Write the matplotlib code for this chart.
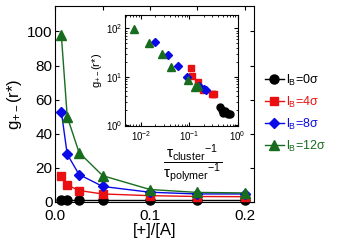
import matplotlib
matplotlib.use("Agg")
import matplotlib.pyplot as plt

plt.rcParams["font.family"] = ["Liberation Sans", "DejaVu Sans"]
plt.rcParams["mathtext.fontset"] = "custom"
plt.rcParams["mathtext.rm"] = "Liberation Sans"
plt.rcParams["mathtext.it"] = "Liberation Sans:italic"
plt.rcParams["mathtext.bf"] = "Liberation Sans:bold"

# ---- data ----
conc = [0.00625, 0.0125, 0.025, 0.05, 0.1, 0.15, 0.2]

g_lb0 = [1.0, 1.0, 1.0, 1.0, 1.0, 1.0, 1.0]
g_lb4 = [15.0, 10.0, 6.7, 4.7, 3.7, 3.2, 3.1]
g_lb8 = [53.0, 28.0, 16.1, 9.1, 5.7, 4.7, 4.7]
g_lb12 = [98.0, 50.0, 29.0, 15.4, 7.3, 5.6, 5.3]

# inset: tau ratio vs g
ratio_lb0 = [0.43, 0.47, 0.50, 0.55, 0.60, 0.63, 0.69]
gin_lb0 = [2.4, 2.05, 1.75, 1.9, 1.75, 1.7, 1.7]
ratio_lb4 = [0.107, 0.116, 0.150, 0.19, 0.29, 0.31, 0.33]
gin_lb4 = [15.2, 10.5, 7.6, 5.4, 4.4, 4.3, 4.3]
ratio_lb8 = [0.0197, 0.037, 0.060, 0.092, 0.163, 0.205, 0.22]
gin_lb8 = [53.0, 28.7, 16.4, 9.9, 6.3, 5.5, 5.4]
ratio_lb12 = [0.0074, 0.015, 0.027, 0.042, 0.096, 0.13, 0.15]
gin_lb12 = [98.0, 50.0, 29.6, 15.9, 8.4, 6.1, 6.5]

labels = [r"l$_\mathrm{B}$=0σ", r"l$_\mathrm{B}$=4σ",
          r"l$_\mathrm{B}$=8σ", r"l$_\mathrm{B}$=12σ"]
colors = ["black", "#e81010", "#0a0ae6", "#186c1e"]
markers = ["o", "s", "D", "^"]
msizes = [6.5, 5.8, 5.5, 7]

fig = plt.figure(figsize=(3.42, 2.46), dpi=100)

# ---- main axes ----
ax = fig.add_axes([0.162, 0.179, 0.581, 0.797])
for ys, c, m, ms, lab in zip([g_lb0, g_lb4, g_lb8, g_lb12], colors, markers, msizes, labels):
    ax.plot(conc, ys, color=c, marker=m, markersize=ms, linewidth=1,
            label=lab, clip_on=False, zorder=3)
ax.set_xlim(0, 0.21)
ax.set_ylim(0, 115)
ax.set_xticks([0.0, 0.05, 0.1, 0.15, 0.2])
ax.set_xticklabels(["0.0", "", "0.1", "", "0.2"])
ax.set_yticks([0, 20, 40, 60, 80, 100])
ax.tick_params(direction="in", top=True, right=True, labelsize=11, length=3, pad=2)
ax.tick_params(axis="x", pad=5)
ax.set_xlabel("[+]/[A]", fontsize=12, labelpad=0)
ax.set_ylabel(r"g$_{+-}$(r*)", fontsize=12, labelpad=2)

leg = fig.legend(loc="upper left", bbox_to_anchor=(0.76, 0.725), frameon=False,
                 fontsize=9, handlelength=1.5, handletextpad=0.2,
                 labelspacing=0.55, borderaxespad=0, labelcolor="linecolor")

# ---- inset ----
ins = fig.add_axes([0.365, 0.488, 0.33, 0.451])
for xs, ys, c, m, ms in zip([ratio_lb0, ratio_lb4, ratio_lb8, ratio_lb12],
                            [gin_lb0, gin_lb4, gin_lb8, gin_lb12], colors, markers,
                            [5, 4.5, 4.5, 5.5]):
    ins.plot(xs, ys, linestyle="none", color=c, marker=m, markersize=ms)
ins.set_xscale("log")
ins.set_yscale("log")
ins.set_xlim(0.0047, 1)
ins.set_ylim(0.95, 190)
ins.tick_params(which="both", direction="in", top=True, right=True, labelsize=7, pad=2)
ins.tick_params(which="major", length=3)
ins.tick_params(which="minor", length=1.5)
ins.set_ylabel(r"g$_{+-}$(r*)", fontsize=8, labelpad=1)

fig.text(0.563, 0.335,
         r"$\dfrac{\mathrm{τ}_{\mathrm{cluster}}{}^{-1}}{\mathrm{τ}_{\mathrm{polymer}}{}^{-1}}$",
         ha="center", va="center", fontsize=11)

fig.savefig("out.png", dpi=100)
